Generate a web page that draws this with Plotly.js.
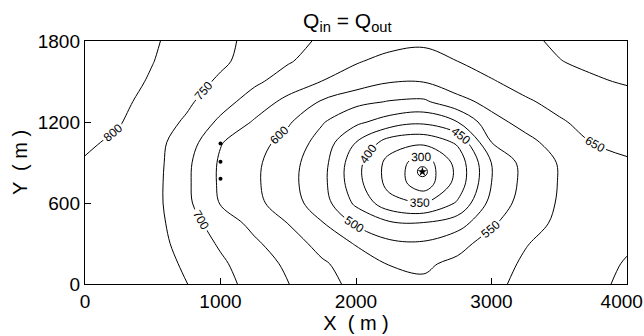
<!DOCTYPE html>
<html>
<head>
<meta charset="utf-8">
<script src="https://cdn.plot.ly/plotly-3.0.1.min.js"></script>
<style>html,body{margin:0;padding:0;background:#fff;}#chart{width:644px;height:336px;}</style>
</head>
<body>
<div id="chart"></div>
<script>
// Grid coordinates (m)
const gridX = [0,250,500,750,1000,1250,1500,1750,2000,2250,2500,2750,3000,3250,3500,3750,4000];
const gridY = [0,150,300,450,600,750,900,1050,1200,1350,1500,1650,1800];
const zY0    = [790,782,770,751,717,683,651,616,588,563,557,572,592,609,625,641,658];
const zY150  = [790,783,771,743,708,674,641,606,579,548,543,560,585,605,621,637,653];
const zY300  = [792,785,770,731,694,658,622,584,546,510,506,535,569,598,614,630,645];
const zY450  = [793,786,768,721,677,636,599,553,493,458,454,478,543,583,608,621,635];
const zY600  = [794,787,767,711,647,613,573,523,440,367,346,406,517,571,604,616,628];
const zY750  = [796,789,768,709,642,608,566,515,418,332,268,369,500,566,602,613,625];
const zY900  = [797,791,770,711,643,610,568,519,418,332,271,369,501,569,603,624,645];
const zY1050 = [806,793,767,726,653,620,582,531,450,376,363,408,550,585,621,652,662];
const zY1200 = [815,803,776,743,690,645,606,554,511,477,460,500,583,617,646,662,675];
const zY1350 = [826,809,787,759,720,677,636,595,563,547,542,583,616,645,661,675,688];
const zY1500 = [838,816,795,770,743,709,678,649,627,603,602,630,647,664,680,696,703];
const zY1650 = [850,825,801,779,758,732,704,679,654,636,631,650,666,682,699,707,715];
const zY1800 = [865,838,805,783,761,738,714,694,680,666,659,673,684,694,705,717,728];
const zRows = [zY0,zY150,zY300,zY450,zY600,zY750,zY900,zY1050,zY1200,zY1350,zY1500,zY1650,zY1800];

// Pumping well and observation points
const wellX = [2490];
const wellY = [832];
const obsX = [1000,1000,1000];
const obsY = [1040,905,780];

const xTicks = [0,1000,2000,3000,4000];
const xTickText = ['0','1000','2000','3000','4000\u00a0\u00a0'];
const yTicks = [0,600,1200,1800];
const yTickText = ['0','600','1200','1800'];

const FONT = 'Liberation Sans, Arial, sans-serif';

const traces = [
  {
    type:'contour', x:gridX, y:gridY, z:zRows,
    showscale:false, hoverinfo:'skip',
    contours:{start:300, end:800, size:50, coloring:'none', showlabels:true,
      labelfont:{family:FONT, size:12, color:'#000'}},
    line:{color:'#000', width:1, smoothing:1}
  },
  {type:'scatter', mode:'markers', x:obsX, y:obsY, showlegend:false,
    marker:{color:'#000', size:4}},
  {type:'scatter', mode:'markers', x:wellX, y:wellY, showlegend:false,
    marker:{color:'#000', size:10, symbol:'circle-open', line:{width:1,color:'#000'}}},
  {type:'scatter', mode:'markers', x:wellX, y:wellY, showlegend:false,
    marker:{color:'#000', size:7, symbol:'star'}}
];

const axisCommon = {
  ticks:'inside', ticklen:6, tickcolor:'#000', tickwidth:1,
  showline:true, linecolor:'#000', linewidth:1.2, mirror:true,
  showgrid:false, zeroline:false, ticklabeloverflow:'allow',
  tickfont:{family:FONT, size:19, color:'#000'}
};

const layout = {
  width:644, height:336,
  margin:{l:85, r:17, t:41, b:52},
  paper_bgcolor:'#fff', plot_bgcolor:'#fff',
  showlegend:false,
  font:{family:FONT, color:'#000'},
  title:{text:'Q<sub>in</sub> = Q<sub>out</sub>', font:{family:FONT, size:21, color:'#000'},
    xref:'paper', x:0.484, xanchor:'center', yref:'container', y:0.94, yanchor:'middle'},
  xaxis:Object.assign({}, axisCommon, {range:[0,4000], tickvals:xTicks, ticktext:xTickText,
    title:{text:'X  ( m )', font:{family:FONT, size:20, color:'#000'}, standoff:4}}),
  yaxis:Object.assign({}, axisCommon, {range:[0,1800], tickvals:yTicks, ticktext:yTickText,
    title:{text:'Y  ( m )', font:{family:FONT, size:20, color:'#000'}, standoff:4}})
};

Plotly.newPlot('chart', traces, layout, {displayModeBar:false, staticPlot:true});
</script>
</body>
</html>
